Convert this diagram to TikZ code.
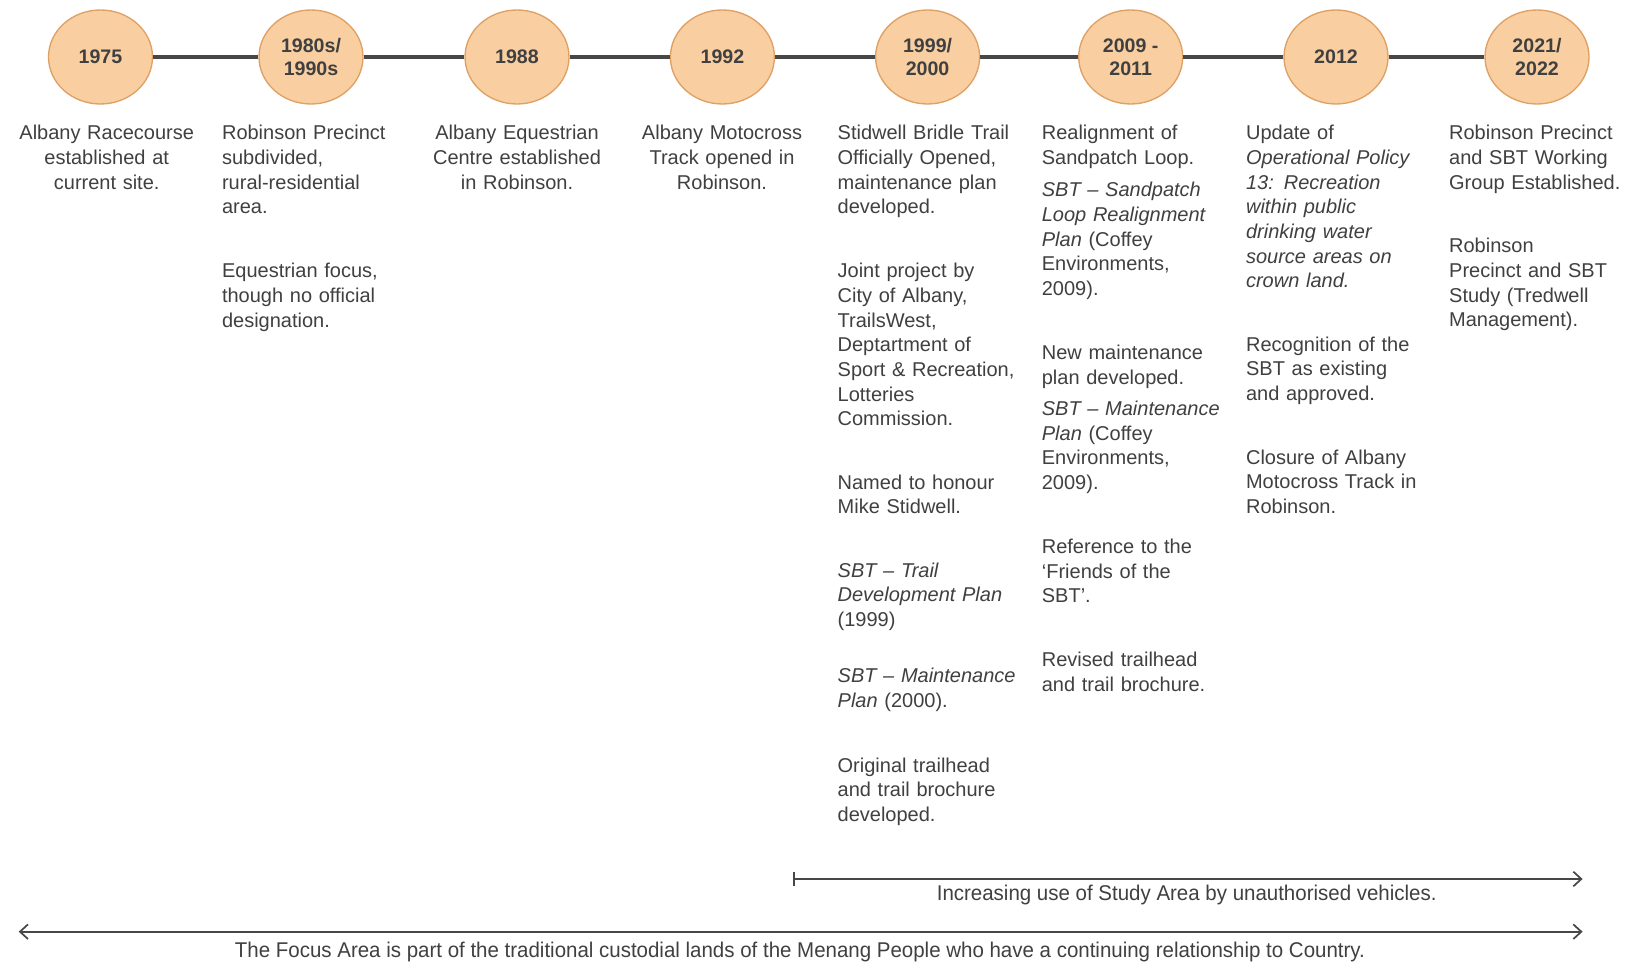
\documentclass[tikz,border=0pt]{standalone}
\usepackage{fontspec}
\setmainfont{Liberation Sans}
\usetikzlibrary{shapes.geometric,arrows.meta}
\definecolor{txt}{HTML}{404040}
\definecolor{peach}{HTML}{F9CFA2}
\definecolor{peachline}{HTML}{DFA063}
\definecolor{linec}{HTML}{474747}
\tikzset{
  year/.style={ellipse, fill=peach, draw=peachline, line width=1pt, minimum width=78pt, minimum height=70.5pt, inner sep=0pt, align=center, text=txt, font=\bfseries\fontsize{14.7}{17.5}\selectfont},
  body/.style={anchor=north west, inner sep=0pt, text width=135pt, align=left, text=txt, font=\fontsize{15}{18.5}\selectfont},
  cbody/.style={anchor=north, inner sep=0pt, text width=140pt, align=center, text=txt, font=\fontsize{15}{18.5}\selectfont},
  tline/.style={draw=linec, line width=2.4pt},
  span/.style={draw=linec, line width=1.3pt},
  note/.style={inner sep=0pt, text=txt, font=\fontsize{16}{18}\selectfont}
}
\begin{document}
\begin{tikzpicture}[x=0.75pt,y=-0.75pt]
\fill[white] (0,0) rectangle (1625,962);
\useasboundingbox (0,0) rectangle (1625,962);
% ellipses
\node[year] (y1) at (100.5,57) {1975};
\node[year] (y2) at (311,57) {1980s/\\1990s};
\node[year] (y3) at (517,57) {1988};
\node[year] (y4) at (722.4,57) {1992};
\node[year] (y5) at (927.6,57) {1999/\\2000};
\node[year] (y6) at (1130.7,57) {2009 -\\2011};
\node[year] (y7) at (1336,57) {2012};
\node[year] (y8) at (1537,57) {2021/\\2022};
\draw[tline] (y1) -- (y2);
\draw[tline] (y2) -- (y3);
\draw[tline] (y3) -- (y4);
\draw[tline] (y4) -- (y5);
\draw[tline] (y5) -- (y6);
\draw[tline] (y6) -- (y7);
\draw[tline] (y7) -- (y8);
% column 1
\node[cbody] (a1) at (106.7,122.4) {\strut Albany Racecourse\\established at\\current site.};
% column 2
\node[body] (b1) at (221.8,122.4) {\strut Robinson Precinct\\subdivided,\\rural-residential\\area.};
\node[body] (b2) at (221.8,260.2) {\strut Equestrian focus,\\though no official\\designation.};
% column 3
\node[cbody] (c1) at (517,122.4) {\strut Albany Equestrian\\Centre established\\in Robinson.};
% column 4
\node[cbody] (d1) at (722,122.4) {\strut Albany Motocross\\Track opened in\\Robinson.};
% column 5
\node[body] (e1) at (837.4,122.4) {\strut Stidwell Bridle Trail\\Officially Opened,\\maintenance plan\\developed.};
\node[body] (e2) at (837.4,260.2) {\strut Joint project by\\City of Albany,\\TrailsWest,\\Deptartment of\\Sport \& Recreation,\\Lotteries\\Commission.};
\node[body] (e3) at (837.4,471.6) {\strut Named to honour\\Mike Stidwell.};
\node[body] (e4) at (837.4,559.7) {\strut\textit{SBT – Trail\\Development Plan}\\(1999)};
\node[body] (e5) at (837.4,665.4) {\strut\textit{SBT – Maintenance\\Plan} (2000).};
\node[body] (e6) at (837.4,754.6) {\strut Original trailhead\\and trail brochure\\developed.};
% column 6
\node[body] (f1) at (1041.6,122.4) {\strut Realignment of\\Sandpatch Loop.};
\node[body] (f2) at (1041.6,179.4) {\strut\textit{SBT – Sandpatch\\Loop Realignment\\Plan} (Coffey\\Environments,\\2009).};
\node[body] (f3) at (1041.6,342.1) {\strut New maintenance\\plan developed.};
\node[body] (f4) at (1041.6,398) {\strut\textit{SBT – Maintenance\\Plan} (Coffey\\Environments,\\2009).};
\node[body] (f5) at (1041.6,535.9) {\strut Reference to the\\‘Friends of the\\SBT’.};
\node[body] (f6) at (1041.6,648.9) {\strut Revised trailhead\\and trail brochure.};
% column 7
\node[body] (g1) at (1245.8,122.4) {\strut Update of\\\textit{Operational Policy\\13: Recreation\\within public\\drinking water\\source areas on\\crown land.}};
\node[body] (g2) at (1245.8,333.8) {\strut Recognition of the\\SBT as existing\\and approved.};
\node[body] (g3) at (1245.8,446.7) {\strut Closure of Albany\\Motocross Track in\\Robinson.};
% column 8
\node[body] (h1) at (1448.9,122.4) {\strut Robinson Precinct\\and SBT Working\\Group Established.};
\node[body] (h2) at (1448.9,235.3) {\strut Robinson\\Precinct and SBT\\Study (Tredwell\\Management).};
% bottom spans
\coordinate (s1a) at (792.8,879);
\coordinate (s1b) at (1582.6,879);
\coordinate (s2a) at (18.7,931.7);
\coordinate (s2b) at (1582.6,931.7);
\draw[span, {Bar[width=10pt]}-{Straight Barb[length=6pt,width=11pt]}] (s1a) -- (s1b);
\draw[span, {Straight Barb[length=6pt,width=11pt]}-{Straight Barb[length=6pt,width=11pt]}] (s2a) -- (s2b);
\node[note] (n1) at (1186.7,894.5) {\scalebox{0.96}[1]{Increasing use of Study Area by unauthorised vehicles.}};
\node[note] (n2) at (800,951.5) {\scalebox{0.96}[1]{The Focus Area is part of the traditional custodial lands of the Menang People who have a continuing relationship to Country.}};
\end{tikzpicture}
\end{document}
